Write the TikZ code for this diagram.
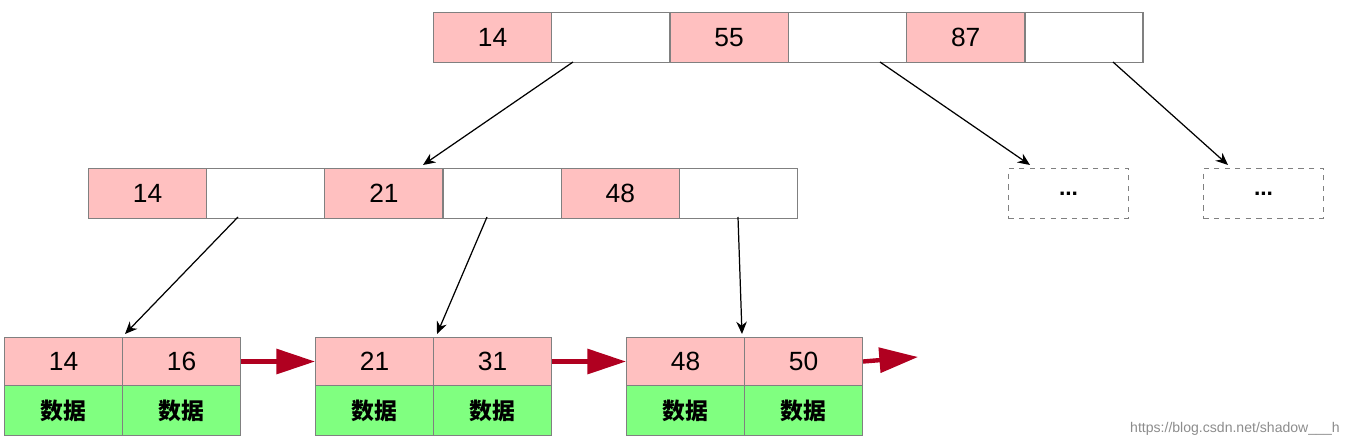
\documentclass[tikz,border=0pt]{standalone}
\usepackage{fontspec}
\setmainfont{Liberation Sans}
\newfontfamily\cjk{Noto Sans CJK SC}
\usetikzlibrary{arrows.meta}
\definecolor{pk}{HTML}{FFC0C0}
\definecolor{gr}{HTML}{80FF80}
\definecolor{bd}{HTML}{808080}
\definecolor{rd}{HTML}{B00020}
\begin{document}
\begin{tikzpicture}[x=0.02cm,y=-0.02cm,
 cell/.style={draw=bd,line width=0.6pt,minimum width=2.36cm,minimum height=1cm,inner sep=0,font=\fontsize{15}{18}\selectfont},
 kc/.style={cell,fill=pk},
 ec/.style={cell,fill=white},
 dc/.style={cell,fill=gr,font=\cjk\bfseries\fontsize{13}{16}\selectfont},
 lc/.style={kc,minimum height=0.96cm},
 dd/.style={draw=bd,dashed,line width=0.6pt,minimum width=2.4cm,minimum height=1cm,font=\bfseries\fontsize{13}{16}\selectfont},
 ar/.style={-{Stealth[length=7pt,width=6pt]},line width=0.7pt},
 rar/.style={-{Triangle[length=22pt,width=14pt]},rd,line width=2.5pt}]
\useasboundingbox (0,0) rectangle (1347,445);
% top
\foreach \i/\t/\s in {0/14/kc,1//ec,2/55/kc,3//ec,4/87/kc,5//ec}
  \node[\s,anchor=north west] (t\i) at (433+118.3*\i,12) {\t};
% middle
\foreach \i/\t/\s in {0/14/kc,1//ec,2/21/kc,3//ec,4/48/kc,5//ec}
  \node[\s,anchor=north west] (m\i) at (88+118.2*\i,168) {\t};
\node[dd,anchor=north west] (d1) at (1008,168) {...};
\node[dd,anchor=north west] (d2) at (1203,168) {...};
% leaves
\foreach \j/\x/\a/\b in {1/4/14/16,2/315/21/31,3/626/48/50}{
  \node[lc,anchor=north west] (l\j a) at (\x,337) {\a};
  \node[lc,anchor=north west] (l\j b) at (\x+118,337) {\b};
  \node[dc,anchor=north west] (g\j a) at (\x,385) {数据};
  \node[dc,anchor=north west] (g\j b) at (\x+118,385) {数据};
}
% connectors
\coordinate (s1) at (573,62); \coordinate (s2) at (880,62); \coordinate (s3) at (1113,62);
\coordinate (e1) at (423,165); \coordinate (e2) at (1030,165); \coordinate (e3) at (1228,165);
\draw[ar] (s1) -- (e1); \draw[ar] (s2) -- (e2); \draw[ar] (s3) -- (e3);
\coordinate (u1) at (238,217); \coordinate (u2) at (487,217); \coordinate (u3) at (738,217);
\coordinate (v1) at (125,334); \coordinate (v2) at (437,334); \coordinate (v3) at (742,334);
\draw[ar] (u1) -- (v1); \draw[ar] (u2) -- (v2); \draw[ar] (u3) -- (v3);
\draw[rar] (l1b.east) -- (l2a.west);
\draw[rar] (l2b.east) -- (l3a.west);
\coordinate (rend) at (918,357);
\draw[rar] (l3b.east) -- (rend);
\node[anchor=south east,text=black!45,font=\fontsize{8}{10}\selectfont,inner sep=0] (wm) at (1340,436) {https://blog.csdn.net/shadow\_\_\_h};
\end{tikzpicture}
\end{document}
